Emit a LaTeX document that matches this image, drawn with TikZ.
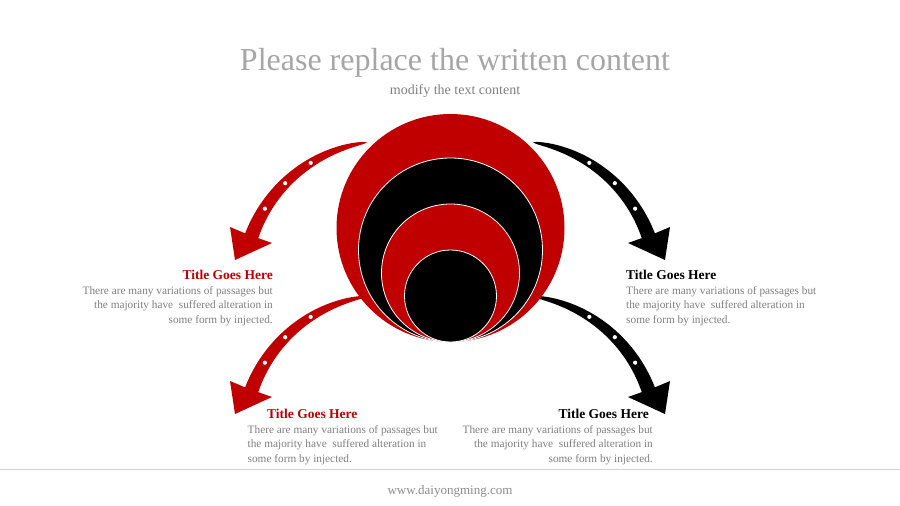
\documentclass[tikz,border=0pt]{standalone}
\usepackage{fontspec}
\setmainfont{Liberation Serif}
\definecolor{myred}{RGB}{192,0,0}
\definecolor{titlegray}{RGB}{166,166,166}
\definecolor{bodygray}{RGB}{128,128,128}
\definecolor{footgray}{RGB}{140,140,140}
\definecolor{linegray}{RGB}{210,210,210}
\tikzset{
  ttl/.style={font=\fontsize{13.5}{16}\selectfont\bfseries, inner sep=0pt},
  body/.style={font=\fontsize{11.3}{14.5}\selectfont, text=bodygray, inner sep=0pt},
  ring/.style={draw=white, line width=0.8pt},
  pics/curvedarrow/.style={code={
    \fill[#1] plot[domain=262:200, samples=50]
        ({387+(144+7*sqrt((262-\x)/62))*cos(\x)}, {285+(144+7*sqrt((262-\x)/62))*sin(\x)})
      -- (230,227) -- (235,260) -- (272,243)
      -- plot[domain=200:262, samples=50]
        ({387+(144-7*sqrt((262-\x)/62))*cos(\x)}, {285+(144-7*sqrt((262-\x)/62))*sin(\x)})
      -- cycle;
    \foreach \a in {238,225,212}
      \fill[white] ({387+144*cos(\a)}, {285+144*sin(\a)}) circle (2.1);
  }}
}
\begin{document}
\begin{tikzpicture}[x=1pt, y=-1pt]
\useasboundingbox (0,0) rectangle (900,506);
\fill[white] (0,0) rectangle (900,506);

% arrows
\pic[transform shape] {curvedarrow=myred};
\begin{scope}[shift={(0,154)}]
  \pic[transform shape] {curvedarrow=myred};
\end{scope}
\begin{scope}[xshift=900pt, xscale=-1]
  \pic[transform shape] {curvedarrow=black};
\end{scope}
\begin{scope}[shift={(0,154)}, xshift=900pt, xscale=-1]
  \pic[transform shape] {curvedarrow=black};
\end{scope}

% circles
\fill[myred] (450.5,228) circle (114);
\filldraw[ring, fill=black] (450.5,250) circle (92);
\filldraw[ring, fill=myred] (450.5,273) circle (69);
\filldraw[ring, fill=black] (450.5,296) circle (46);

% heading
\node[font=\fontsize{32}{36}\selectfont, text=titlegray, anchor=base, inner sep=0pt] (head) at (455,70) {Please replace the written content};
\node[font=\fontsize{14}{16}\selectfont, text=bodygray, anchor=base, inner sep=0pt] (sub) at (455,94) {modify the text content};

% top-left
\node[ttl, text=myred, anchor=base east] (t1) at (273,279) {Title Goes Here};
\node[body, align=right, anchor=base east] (b1) at (273,323) {There are many variations of passages but\\the majority have\ \ suffered alteration in\\some form by injected.};

% top-right
\node[ttl, text=black, anchor=base west] (t2) at (626,279) {Title Goes Here};
\node[body, align=left, anchor=base west] (b2) at (626,323) {There are many variations of passages but\\the majority have\ \ suffered alteration in\\some form by injected.};

% bottom-left
\node[ttl, text=myred, anchor=base west] (t3) at (267,418) {Title Goes Here};
\node[body, align=left, anchor=base west] (b3) at (247.5,462) {There are many variations of passages but\\the majority have\ \ suffered alteration in\\some form by injected.};

% bottom-right
\node[ttl, text=black, anchor=base east] (t4) at (649,418) {Title Goes Here};
\node[body, align=right, anchor=base east] (b4) at (653,462) {There are many variations of passages but\\the majority have\ \ suffered alteration in\\some form by injected.};

% footer
\coordinate (l1) at (0,469.5);
\coordinate (l2) at (900,469.5);
\draw[linegray, line width=0.8pt] (l1) -- (l2);
\node[font=\fontsize{13}{15}\selectfont, text=footgray, anchor=base, inner sep=0pt] (foot) at (450,494) {www.daiyongming.com};
\end{tikzpicture}
\end{document}
